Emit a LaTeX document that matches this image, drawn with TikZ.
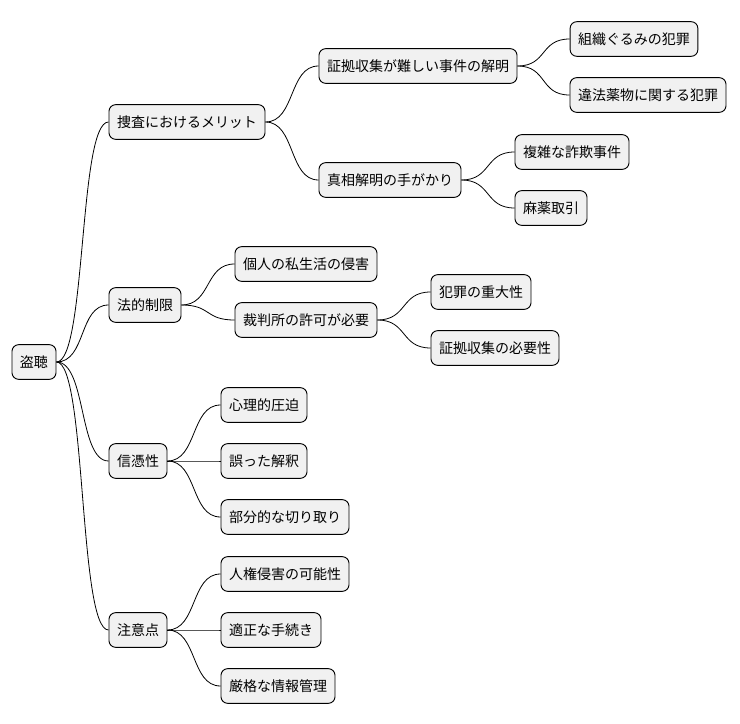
\documentclass[tikz,border=0pt]{standalone}
\usepackage{fontspec}
\setmainfont{Noto Sans CJK JP}
\usetikzlibrary{positioning}
\definecolor{BoxFill}{HTML}{F1F1F1}
\tikzset{
	topic/.style={draw=black, fill=BoxFill, rounded corners=5pt, line width=0.7pt,
		minimum height=26pt, inner xsep=6pt, font=\fontsize{10.5pt}{12pt}\selectfont},
	branch/.style={line width=0.6pt}
}
\begin{document}
\begin{tikzpicture}[x=0.75pt, y=-0.75pt]
    % page frame
    \useasboundingbox (0,0) rectangle (740,724);
    \node[topic] (root) at (34,362) {盗聴};
    % first level
    \node[topic] (merit) at (187,122) {捜査におけるメリット};
    \node[topic] (limit) at (145,305) {法的制限};
    \node[topic] (trust) at (138,461) {信憑性};
    \node[topic] (care) at (138,630) {注意点};
    % second level
    \node[topic] (proof) at (418,66) {証拠収集が難しい事件の解明};
    \node[topic] (truth) at (390,180) {真相解明の手がかり};
    \node[topic] (org) at (634,39) {組織ぐるみの犯罪};
    \node[topic] (drug) at (648,95) {違法薬物に関する犯罪};
    \node[topic] (fraud) at (572,152) {複雑な詐欺事件};
    \node[topic] (deal) at (551,208) {麻薬取引};
    \node[topic] (priv) at (306,264) {個人の私生活の侵害};
    \node[topic] (court) at (306,320) {裁判所の許可が必要};
    \node[topic] (grave) at (481,292) {犯罪の重大性};
    \node[topic] (need) at (495,348) {証拠収集の必要性};
    \node[topic] (press) at (264,405) {心理的圧迫};
    \node[topic] (wrong) at (264,461) {誤った解釈};
    \node[topic] (cut) at (285,517) {部分的な切り取り};
    \node[topic] (rights) at (285,574) {人権侵害の可能性};
    \node[topic] (proc) at (271,630) {適正な手続き};
    \node[topic] (info) at (278,686) {厳格な情報管理};
    \foreach \a/\b in {root/merit, root/limit, root/trust, root/care,
        merit/proof, merit/truth, proof/org, proof/drug, truth/fraud, truth/deal,
        limit/priv, limit/court, court/grave, court/need,
        trust/press, trust/wrong, trust/cut,
        care/rights, care/proc, care/info} {
        \draw[branch] (\a.east) .. controls +(30,0) and +(-30,0) .. (\b.west);
    }
\end{tikzpicture}
\end{document}
